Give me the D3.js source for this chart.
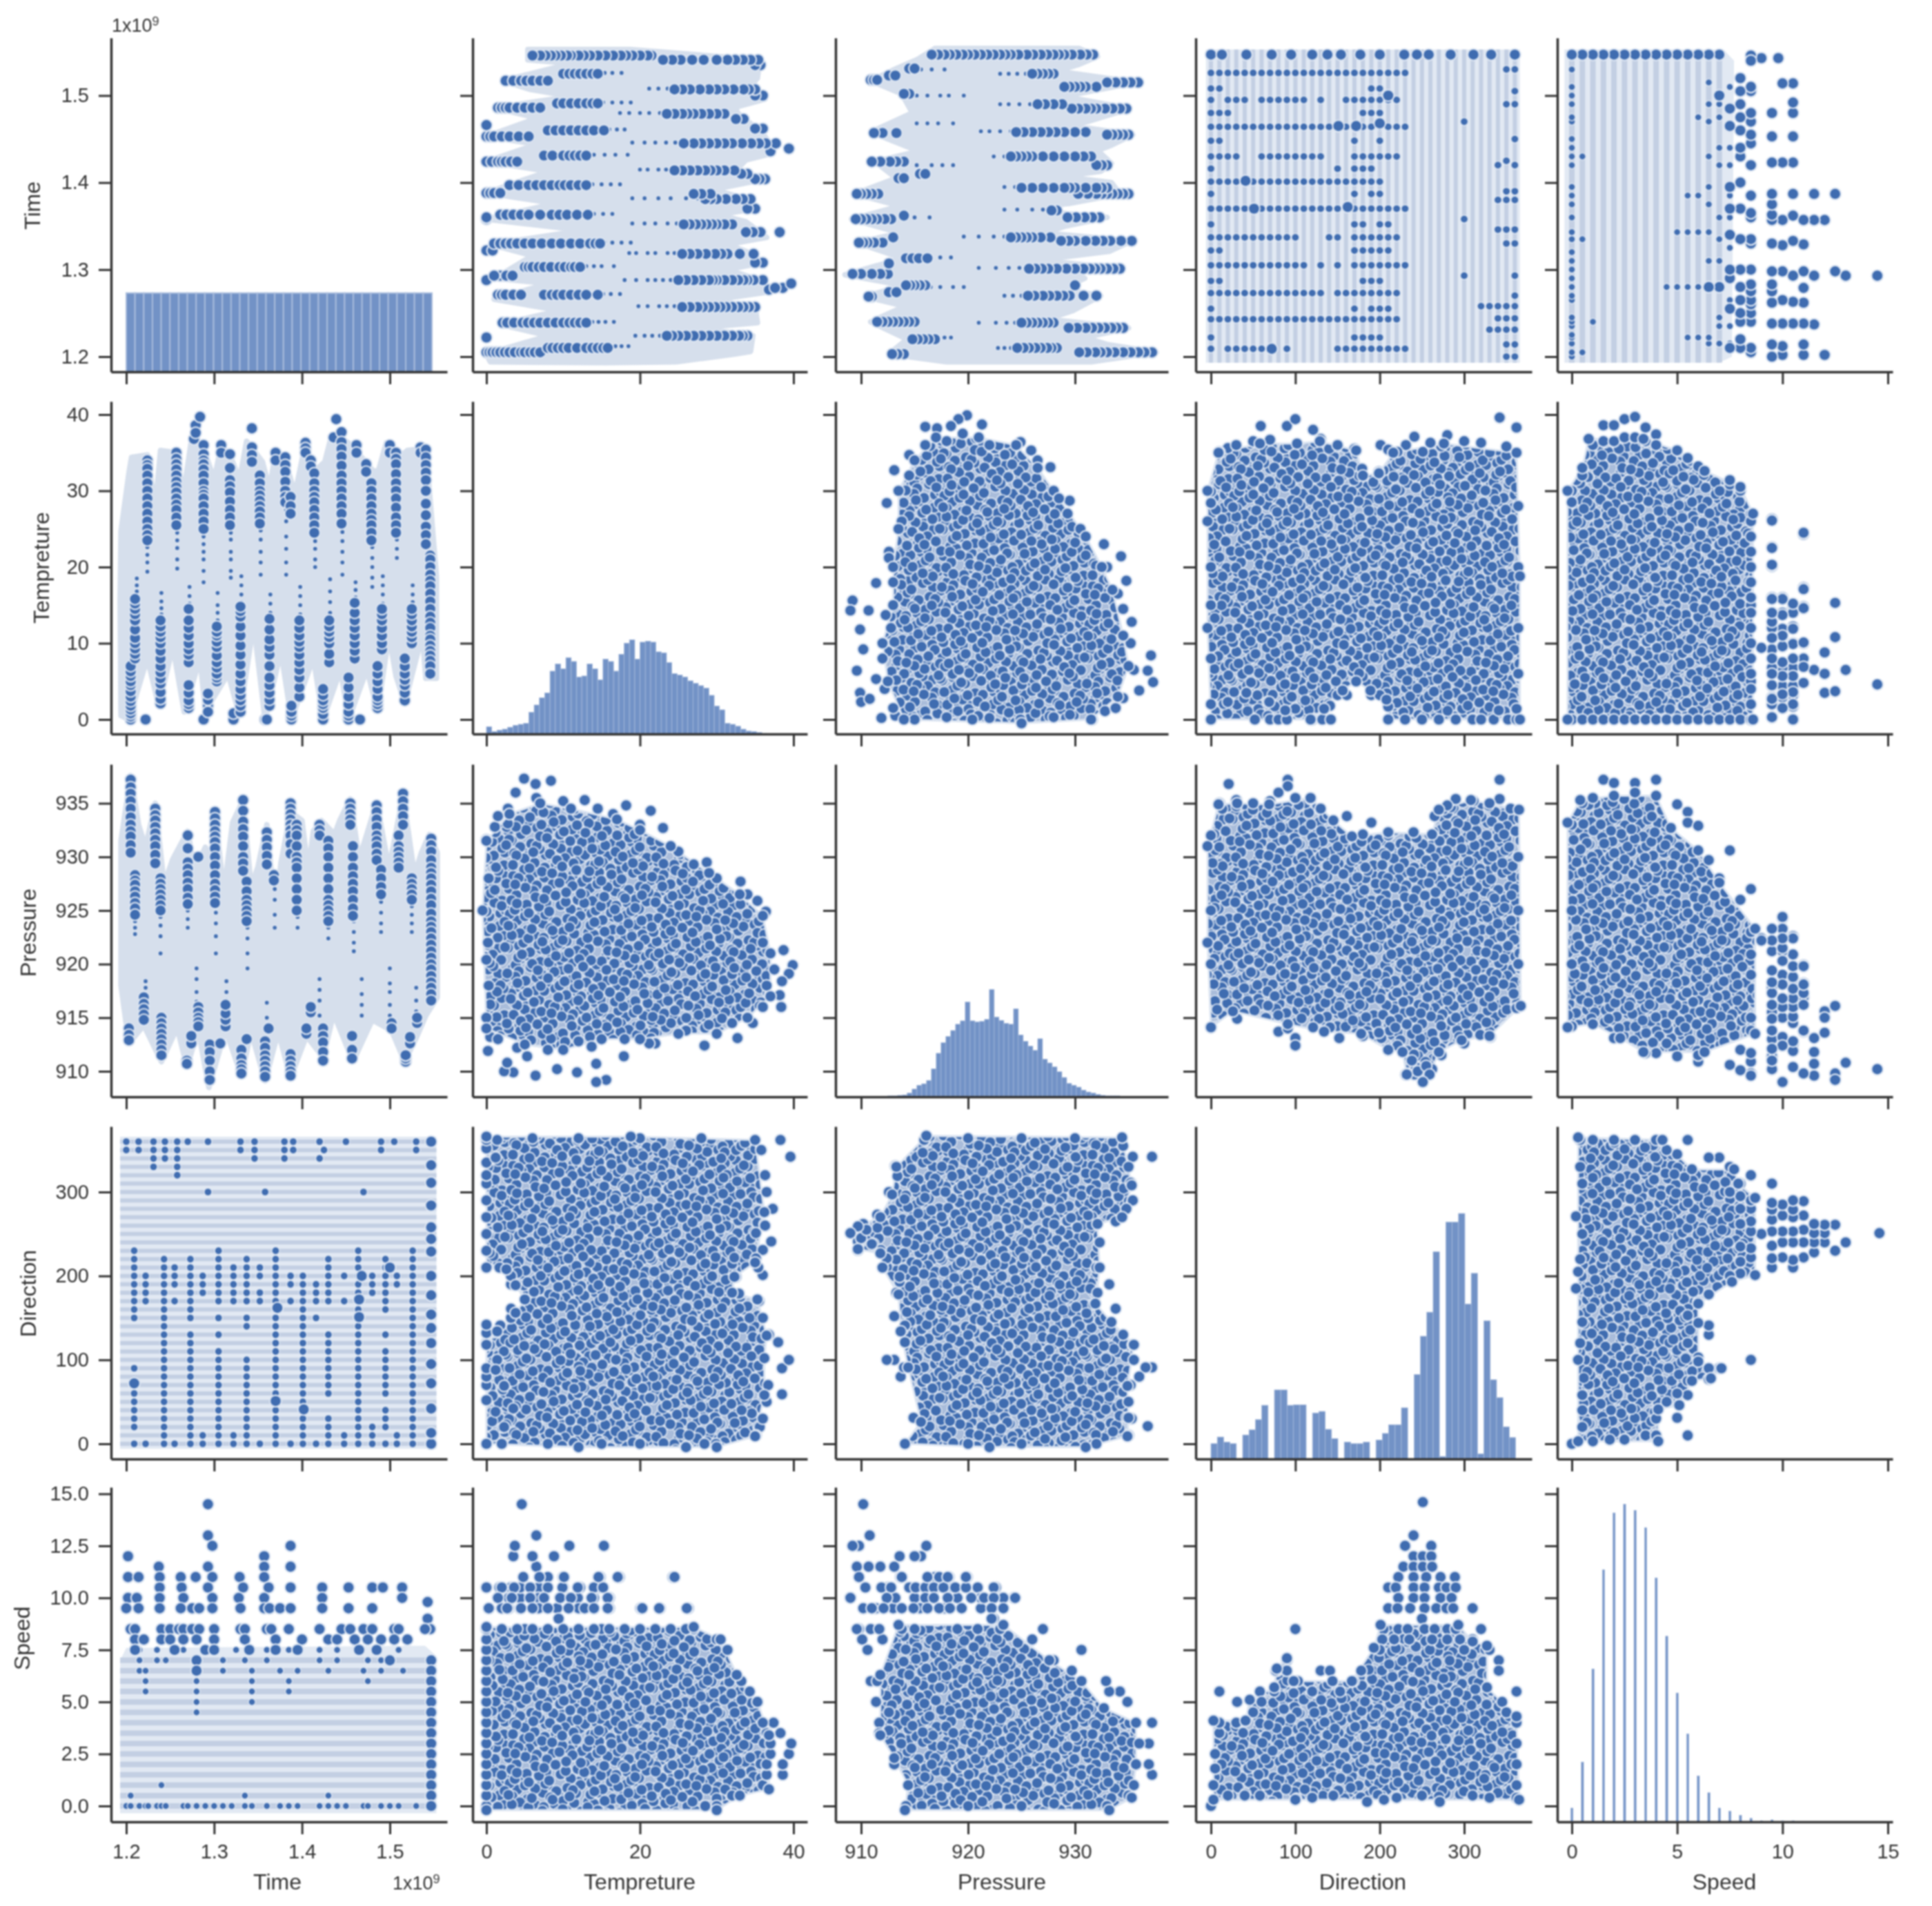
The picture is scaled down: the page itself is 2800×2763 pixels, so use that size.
<!DOCTYPE html>
<html>
<head>
<meta charset="utf-8">
<script src="https://cdn.jsdelivr.net/npm/d3@7"></script>
<style>
  html, body { margin: 0; background: #fff; }
  svg { display: block; filter: blur(0.9px); }
  text { font-family: "Liberation Sans", Arial, sans-serif; fill: #333; }
</style>
</head>
<body>
<svg id="chart" width="2800" height="2763"></svg>
<script>
var varNames = ["Time", "Tempreture", "Pressure", "Direction", "Speed"];

// tick values and their labels, one list per variable
var timeTicks = [1.2, 1.3, 1.4, 1.5];
var timeLabels = ["1.2", "1.3", "1.4", "1.5"];
var tempTicks = [0, 10, 20, 30, 40];
var tempXTicks = [0, 20, 40];
var pressTicks = [910, 915, 920, 925, 930, 935];
var pressXTicks = [910, 920, 930];
var dirTicks = [0, 100, 200, 300];
var speedTicks = [0, 2.5, 5, 7.5, 10, 12.5, 15];
var speedXTicks = [0, 5, 10, 15];

// histograms, heights
var timeBinStart = 1.2, timeBinWidth = 0.00994, timeHistMax = 1263;
var timeCounts = [298,298,298,298,298,298,298,298,298,298,298,298,298,298,298,298,298,298,298,298,298,298,298,298,298,298,298,298,298,298,298,298,298,298,298];
var tempBinStart = 0, tempBinWidth = 0.69, tempHistMax = 688;
var tempCounts = [15,5,8,10,14,18,20,22,45,60,75,85,130,145,135,158,150,118,120,145,135,112,155,150,130,165,188,195,155,190,192,190,170,168,148,125,122,118,110,105,100,95,80,58,50,22,20,16,10,6,5,3,1];
var pressBinStart = 912.5, pressBinWidth = 0.452, pressHistMax = 687;
var pressCounts = [2,2,3,4,8,16,24,27,34,58,90,112,125,137,150,157,196,157,155,156,160,222,165,158,152,150,182,128,115,105,96,120,78,70,62,52,40,28,24,20,14,10,8,5,3,2,2,2,1,1];
var dirBinStart = 0, dirBinWidth = 7.52, dirHistMax = 650;
var dirCounts = [30,43,33,30,0,47,57,77,105,0,135,135,105,106,106,0,90,93,58,40,0,33,30,30,33,0,37,50,67,67,100,0,165,240,287,405,5,463,463,480,303,363,10,270,155,120,63,42];
var speedBinStart = -0.05, speedBinWidth = 0.5, speedBarWidth = 0.11, speedHistMax = 654;
var speedCounts = [27,117,299,493,604,621,609,575,477,363,252,172,90,57,27,21,13,7,2,4,2,2];

// the discrete levels of Direction and Speed
var dirLevels = [0,10,20,30,40,50,60,70,80,90,100,110,120,130,140,150,160,170,180,190,200,210,220,230,240,250,260,270,280,290,300,310,320,330,340,350,360];
var speedLevels = [0,0.5,1,1.5,2,2.5,3,3.5,4,4.5,5,5.5,6,6.5,7];

// Time / Temperature
var timeTempOutline = [[1.193,15.6],[1.194,24.7],[1.203,32.3],[1.206,34.4],[1.224,34.7],[1.233,27.7],[1.239,35.3],[1.257,35],[1.265,29.5],[1.274,36.5],[1.287,35.9],[1.3,31.4],[1.308,35.9],[1.318,34.7],[1.329,31.4],[1.337,36.5],[1.355,33.8],[1.363,30.2],[1.37,35],[1.381,34],[1.392,29.5],[1.404,36.3],[1.415,32.6],[1.426,33.8],[1.434,37.4],[1.447,36.8],[1.457,35.9],[1.481,32.6],[1.487,32.6],[1.496,36.3],[1.511,34.4],[1.52,35.3],[1.541,35.6],[1.553,18.7],[1.553,5.4],[1.541,5.4],[1.537,11.1],[1.517,2.2],[1.507,5.7],[1.499,11.1],[1.486,1.1],[1.474,6.6],[1.453,0],[1.444,6.6],[1.424,0],[1.413,8.1],[1.388,0],[1.376,9],[1.358,0],[1.345,12.6],[1.329,0.5],[1.316,6],[1.29,1.1],[1.284,8.1],[1.266,1],[1.253,9.6],[1.237,1.8],[1.224,8.1],[1.203,0],[1.194,0.5]];
var timeTempColumns = [
  [1.205,[0,0.4,0.8,1.3,1.8,2.4,3,3.7,4.5,5,5.7,6.3,7]],[1.21,[8,8.6,9.3,10,10.7,11.8,13,13.8,14.5,15.2,15.8]],[1.222,[0]],
  [1.224,[34,33.4,32.9,32,31,30,29,28,27,26,25,24.2,23.5]],
  [1.239,[2.1,2.7,3.6,4.7,5.4,6.2,7,8,9,10,10.8,11.5,12.2,13]],[1.257,[35,34.2,33.5,32.8,32,31.2,30.5,29.8,29,28.2,27.5,26.5,25.5]],
  [1.271,[1.5,2,2.5,3.5,4.5,7.5,8.5,9.2,10,11,12,13,14.5]],
  [1.277,[36.8]],[1.279,[38.6,37.6]],[1.284,[39.7]],[1.288,[0,36,34.8,34,33.5,32.8,32,31,30,29.5,29,28,27,26,25]],[1.293,[1.8,1,2.6,3.4]],
  [1.303,[5,5.5,6,6.8,7.5,8.4,9.5,10.2,11,11.5,12.2]],[1.308,[36,35]],[1.318,[34.8,33,31.4,30.6,29.8,28.6,27.5,26.5,25.5]],[1.322,[0,0.8]],
  [1.33,[1,1.8,2.5,3.2,4,5,6,7.2,8.5,9.7,11,12.2,13.5,14.2,14.8]],[1.343,[38.2,35.7,34.7,33.8]],[1.352,[32,31,30,29.4,28.7,28,27.3,26.5,25.7]],[1.358,[0]],[1.36,[0]],
  [1.363,[1.8,2.6,3.5,4.5,5.5,7,8.5,9.5,10.5,11.8,13.2]],[1.37,[35,34]],[1.381,[34.4,33.4,32.5,31.2,30,29.2,28.5]],[1.387,[29.2,28,27]],[1.388,[0,0.5,1,1.8]],
  [1.397,[3,4.2,5.5,6.5,7.5,8.5,9.5,10.2,11,12,13]],[1.404,[36.3,35.6,35]],[1.41,[34,33.2]],[1.414,[32.3,31,30,29.2,28.5,27.5,26.5,25.5,24.5]],[1.424,[0,0.7,1.5,2,2.5,3.2,4]],
  [1.431,[7.5,8.6,10,10.8,11.5,12.2,13]],[1.439,[39.4]],[1.436,[37]],[1.445,[37.7,36.4,35.5,34.5,33.3,32,31,30,29,28,27,25.7]],[1.453,[0,0.5,1,2,3,4.2,5.5]],[1.46,[8,9,10,11,12,13,14,15.3]],
  [1.466,[0]],[1.462,[36,35]],[1.473,[33.5,32.5]],[1.479,[31,30,29,28,27,26.2,25.5,24.5,23.5]],[1.486,[1.5,2,2.5,3,4,5,6,7]],[1.491,[9.2,10,11,12,13,13.8,14.5]],
  [1.5,[36,35]],[1.507,[35,34.2,33.5,32.2,31,30,29,27.8,26.5,25.5,24.5]],[1.517,[2.5,3.5,4.5,5.2,6,7,8]],[1.525,[10,10.8,11.5,12.2,13,13.8,14.5]],[1.535,[35.7,35]],
  [1.541,[35.4,34.4,33.4,32.4,31.4,30,28.3,26.8,25.3,24.2,23]],[1.546,[21.5,21,20,19,18.2,17.5,16.5,15.5,14.5,13.5,12.7,12,11,10.5,9.7,9,8.4,7.7,7,6]]
];
var timeTempSmall = [
  [1.212,[16.8,17.6,18.5]],[1.224,[22.6,21.6,20.6,19.4]],[1.24,[13.8,14.6,15.5,16.6]],[1.258,[24.5,23.5,22.5,21,19.8]],[1.272,[15.2,16.2,17.4]],
  [1.288,[24,23,22,21,19.5,18]],[1.304,[13,14,15,16.6]],[1.319,[24.5,23.6,22,21,19.5,18.6]],[1.331,[15.4,16.4,17.6,18.8]],[1.353,[24.8,23.6,22,20.6,19]],
  [1.364,[14,15.2,16.4]],[1.382,[27.5,26,24,22.4,20.6,19]],[1.398,[13.8,15,16.2,17.4]],[1.415,[23.4,22.4,21,20]],[1.432,[14,15.4,16.8,18.4]],
  [1.446,[24.6,23.4,22,20.6,19]],[1.461,[16,17,18]],[1.48,[22.6,21.2,20,18.6,17.4]],[1.492,[15.2,16.4,17.6,18.8]],[1.508,[23.6,22.4,21.2]],[1.526,[15.4,16.4,17.6]]
];

// Time / Pressure
var timePressOutline = [[1.194,931.5],[1.205,937.6],[1.214,933],[1.222,930.9],[1.233,935],[1.243,927.4],[1.253,929.8],[1.27,932.4],[1.278,928.7],[1.29,930.9],[1.298,929.8],[1.301,934.2],[1.311,926.6],[1.321,933.2],[1.333,935.3],[1.342,927.2],[1.35,929.1],[1.36,933],[1.37,924.4],[1.376,929.4],[1.387,934.2],[1.4,933.4],[1.407,928.7],[1.413,932.4],[1.422,933.4],[1.437,932.1],[1.443,933.4],[1.455,935.4],[1.465,929.8],[1.473,931.9],[1.485,935.1],[1.499,928.9],[1.506,931.9],[1.515,935.8],[1.528,928.3],[1.536,930.4],[1.545,932.1],[1.554,930.4],[1.554,916.9],[1.541,915.2],[1.531,913.3],[1.517,910.9],[1.502,913.8],[1.48,914.8],[1.458,910.9],[1.436,915.4],[1.424,911.3],[1.405,913.3],[1.387,909.4],[1.373,913.7],[1.358,909.1],[1.342,913.7],[1.331,909.6],[1.313,913.9],[1.294,908.5],[1.282,913.9],[1.269,910.4],[1.258,914.1],[1.24,910.9],[1.22,914.3],[1.203,912.6],[1.194,918]];
var timePressColumns = [
  [1.205,[937.2,936.5,935.9,935.2,934.5,933.7,933,932.4,931.9,931.1,930.4]],[1.203,[914,913.4,912.9]],[1.21,[928.3,927.8,927.4,926.8,926.3,925.7,925.2,924.6]],[1.22,[916.9,916.3,915.8,915.3,914.8]],
  [1.233,[934.5,933.9,933.4,932.8,932.2,931.6,931,930.2,929.4]],[1.239,[928,927.5,927,926.5,926,925.5,925]],[1.24,[915,914.5,914,913.5,913,912.5,912,911.5]],[1.27,[932,930.8,929.5,928.9,928.3,927.6,927,926.2,925.6]],
  [1.269,[911,910.7]],[1.274,[912.6,913.3]],[1.282,[930,916,915.5,915,914.6,914.2]],[1.301,[934.2,933.6,933,932.4,931.9,931.4,930.8,930,929.2,928.3,927.5,926.9,926.3,925.7]],
  [1.295,[912.5,911.8,911,910,909.2]],[1.307,[912.6]],[1.313,[914.2,914.8,915.4,916.2]],[1.333,[935.3,934.3,933.3,932.6,931.9,931,930,929.4,928.7]],[1.337,[927.7,926.8,926,925.5,925,924.5,924,913]],
  [1.331,[912,911.2,910.6,910.2,909.8]],[1.358,[912.8,912.2,911.5,911,910.5,910,909.5]],[1.36,[932.3,931.6,930.9,930.1,929.3]],[1.362,[914]],[1.368,[928.3,927.8]],
  [1.387,[935,934.5,934,933.5,933,932.5,932,931.2,930.3,911.6,911,910.5,910,909.6]],[1.394,[933,932.5,932,931,930,929.5,929,928,927,926,925]],[1.405,[913.5,914]],[1.41,[915.5,916]],
  [1.42,[933,932.5,932]],[1.424,[914,913.3,912.7,911.8,911]],[1.43,[931.5,930.8,930,929,928,927,926,925.5,925,924.5,924]],[1.455,[935,934.5,934,933.5,933]],[1.458,[931,930,929,928.2,927.5,926.8,926,925.2,924.5]],
  [1.457,[913.3,912,911.2]],[1.485,[934.8,934.2,933.5,932.8,932,931.5,931,930.3,929.7]],[1.49,[928.8,928,927.2,926.5]],[1.515,[935.9,935.2,934.5,933.8,933]],[1.51,[932,931,930.5,930,929.5,929]],
  [1.525,[928,927.5,927,926.5,926]],[1.502,[914.5,914]],[1.518,[910.9,911.2,911.5]],[1.523,[912.6,913.2]],[1.531,[914.5,915]],
  [1.547,[931.7,931.1,930.5,929.7,929,928.5,928,927.4,926.8,926.1,925.5,924.7,924,923.5,923,922.4,921.8,921.2,920.6,920,919.5,918.9,918.3,917.8,917.2,916.6]]
];
var timePressSmall = [
  [1.21,[924,923.4,922.8]],[1.239,[924.4,923.6,922.6,921]],[1.222,[916.9,917.8,918.4]],[1.27,[925,924.2,923.4]],[1.302,[924.8,923.8,922.6,921]],
  [1.28,[916.5,917.4,918.6,919.6]],[1.338,[923.4,922.4,921,919.6]],[1.314,[916.6,917.4,918.4]],[1.369,[927,926,924.6,923.4]],[1.395,[924.4,923.4]],
  [1.36,[915,916.4]],[1.42,[915.2,916.6,917.6,918.6]],[1.43,[923.4,922.4]],[1.459,[924,923,922,921.2]],[1.49,[925.8,924.8,923.8,923]],
  [1.468,[915.2,916.2,917.2,918.6]],[1.525,[925.4,924.6,923.8,923]],[1.5,[915.2,916.2,917.4,918.2,919.6]],[1.53,[915.6,916.6,917.8]]
];

// Time / Direction
var timeDirOutline = [[1.193,-6],[1.553,-6],[1.553,366],[1.193,366]];
var timeDirColumns = [
  [1.209,[0,20,30,40,50,60,70,90,150,160,170,180,190,200,210,220,230]],
  [1.222,[0,170,180,190,200]],
  [1.243,[0,10,20,30,40,50,60,70,80,90,100,110,120,130,140,150,160,170,180,190,200,210,220]],
  [1.255,[0,170,190,200,210]],
  [1.273,[0,10,20,30,40,50,60,70,80,90,100,110,120,130,150,160,170,180,190,200,210,220]],
  [1.287,[0,10,180,190,200]],
  [1.305,[0,10,20,30,40,50,60,70,80,90,100,110,130,150,170,180,190,200,210,220,230]],
  [1.322,[0,10,170,180,190,200,210]],
  [1.337,[0,10,20,30,40,50,60,70,80,90,100,140,150,170,180,190,200,210,220]],
  [1.352,[0,170,180,200,210]],
  [1.37,[0,10,20,30,40,50,60,70,80,90,100,110,120,130,140,150,160,170,180,190,200,210,220,230]],
  [1.387,[0,170,190,200]],
  [1.401,[0,10,20,30,40,50,60,70,80,90,100,110,120,130,140,150,160,170,180,190,200]],
  [1.416,[0,150,170,180,190]],
  [1.43,[0,10,20,30,60,70,80,90,100,110,120,130,170,180,190,200,210,220]],
  [1.448,[0,10,170,200]],
  [1.464,[0,10,20,30,40,50,60,70,80,90,100,110,120,130,140,150,160,170,180,190,200,210,220,230]],
  [1.48,[0,10,20,180,190,200]],
  [1.495,[0,20,30,40,60,70,80,90,100,110,130,160,170,180,190,200,210,220]],
  [1.508,[0,10,190,200]],
  [1.526,[0,10,20,30,40,50,60,70,80,90,100,110,120,130,140,150,160,170,180,190,200,210,220,230]],
  [1.2,[360,350]],[1.214,[360,350]],[1.231,[360,350,340,330]],[1.244,[360,350,340]],[1.258,[360,350,340,330,320]],[1.27,[360]],
  [1.293,[360,300]],[1.33,[360,350]],[1.346,[360,350,340]],[1.358,[300]],[1.38,[360,350,340]],[1.39,[360,350]],[1.42,[360,340]],
  [1.425,[350]],[1.45,[360]],[1.47,[300]],[1.49,[360,350]],[1.505,[360]],[1.53,[360,350]]
];
var timeDirBig = [[1.209,72],[1.468,200],[1.465,172],[1.465,151],[1.5,210],[1.37,51],[1.402,41],[1.372,162],
  [1.547,0],[1.547,13],[1.547,42],[1.547,72],[1.547,95],[1.547,120],[1.547,138],[1.547,154],[1.547,177],[1.547,200],[1.547,229],[1.547,244],[1.547,258],[1.547,284],[1.547,311],[1.547,332],[1.547,360]];

// Time / Speed
var timeSpeedOutline = [[1.193,-0.35],[1.553,-0.35],[1.553,7.2],[1.54,7.7],[1.2,7.6],[1.193,7]];
var timeSpeedBig = [
  [1.293,14.5],[1.293,13],[1.298,12.5],[1.387,12.5],[1.202,12],[1.357,12],[1.237,11.5],[1.293,11.5],[1.357,11.5],[1.387,11.5],
  [1.202,11],[1.214,11],[1.238,11],[1.262,11],[1.279,11],[1.298,11],[1.329,11],[1.357,11],
  [1.238,10.5],[1.263,10.5],[1.293,10.5],[1.333,10.5],[1.362,10.5],[1.387,10.5],[1.423,10.5],[1.453,10.5],[1.48,10.5],[1.492,10.5],[1.514,10.5],
  [1.202,10],[1.212,10],[1.238,10],[1.265,10],[1.298,10],[1.328,10],[1.357,10],[1.423,10],[1.514,10],
  [1.2,9.5],[1.214,9.5],[1.238,9.5],[1.262,9.5],[1.275,9.5],[1.283,9.5],[1.298,9.5],[1.33,9.5],[1.357,9.5],[1.363,9.5],[1.375,9.5],[1.387,9.5],[1.423,9.5],[1.453,9.5],[1.48,9.5],
  [1.543,9.8],[1.543,9],[1.546,8.5],
  [1.205,8.5],[1.21,8.5],[1.24,8.5],[1.25,8.5],[1.26,8.5],[1.265,8.5],[1.275,8.5],[1.283,8.5],[1.3,8.5],[1.33,8.5],[1.335,8.5],[1.36,8.5],[1.365,8.5],[1.385,8.5],[1.42,8.5],[1.445,8.5],[1.455,8.5],[1.47,8.5],[1.48,8.5],[1.505,8.5],[1.51,8.5],[1.54,8.5],
  [1.21,8],[1.22,8],[1.24,8],[1.25,8],[1.265,8],[1.28,8],[1.3,8],[1.335,8],[1.37,8],[1.4,8],[1.43,8],[1.44,8],[1.46,8],[1.475,8],[1.49,8],[1.505,8],[1.52,8],
  [1.21,7.5],[1.255,7.5],[1.29,7.5],[1.3,7.5],[1.34,7.5],[1.37,7.5],[1.395,7.5],[1.465,7.5],[1.485,7.5],
  [1.28,7],[1.5,7],[1.28,6.5],[1.547,7],[1.547,6.5],[1.547,6],[1.547,5.5],[1.547,5],[1.547,4.5],[1.547,4],[1.547,3.5],[1.547,3],[1.547,2.5],[1.547,2],[1.547,1.5],[1.547,1],[1.547,0.5],[1.547,0]
];
var timeSpeedColumns = [
  [1.2,[0]],[1.205,[0,0.5]],[1.215,[0,7.5,7,6.5]],[1.222,[6.5,6,5.5,0]],[1.225,[0]],[1.235,[0,7.5,7]],[1.24,[0,1]],[1.245,[7,0]],[1.265,[0,7.5]],[1.27,[0]],
  [1.28,[0,6,5.5,5,4.5]],[1.29,[0]],[1.3,[0]],[1.31,[7,6.5,0]],[1.32,[0]],[1.325,[7.5]],[1.335,[0,7,0.5]],[1.343,[6.5,6,5.5,5,0]],[1.36,[0,7.5,7]],
  [1.375,[0,6.5]],[1.385,[7.5,6,5.5,0]],[1.395,[0,6.5]],[1.42,[0,7.5,7]],[1.43,[0,6.5,0.5]],[1.44,[7.5,7,0]],[1.45,[0]],[1.47,[0,6.5]],
  [1.475,[7,6,0]],[1.49,[7,6.5,0]],[1.5,[0]],[1.51,[7.5,0]],[1.515,[6.5]],[1.53,[0]],[1.545,[0]]
];

// Temperature / Pressure
var tempPressOutline = [[0,931.5],[3,934],[7,935],[11,934.5],[17,933.5],[20,932.5],[24,931],[29,928.5],[33,926.5],[36,924.5],[37,921],[37,917],[34,915],[30,913.5],[25,913.5],[20,913],[15,913],[10,912],[5,912.5],[0,914],[-0.5,925]];
var tempPressDots = [[4.9,937.3],[3.8,936],[6.4,936.8],[8.4,937.1],[12.8,935.3],[18.2,934.8],[21.4,934.3],[23,932.7],[28.7,929.5],[33.1,927.7],[35.3,925.9],[36.4,924.9],[38.7,921.3],[39.9,919.9],[39.4,919.1],[38.5,918.4],[37.5,919.5],[38.2,917.1],[38.4,916],[34.7,914.5],[32.7,913.1],[28.4,912.4],[22,912.6],[21.2,912.6],[17.9,911.4],[15.6,909.2],[14.3,909],[14.3,910.7],[13.7,912.3],[11.8,909.9],[9.2,910.2],[6.4,909.6],[3.5,909.9],[2.3,910],[2.7,910.8],[5.3,911.4],[0.2,911.9],[0.5,913.2],[0,915],[0,920.4],[0,924.9],[0,931.6],[1.1,932.8],[1.5,933.8],[2.8,934.5],[6.5,935.5],[10,935.2],[14.5,934.5],[16.5,934],[20,933],[25,930.5],[27,929.3],[30,928],[34,926.5],[36,922],[36.5,918],[36,916],[32,914.5],[26,913.8],[18,913],[12,912.8],[8,912],[4,912.2],[1.5,913],[0.3,918],[0.2,922],[0.3,928]];

// Direction / Temperature
var dirTempOutline = [[-4,30],[9,35],[58,36.2],[102,36.2],[129,36.5],[172,35.3],[180,32],[199,32.3],[216,35],[276,36.2],[362,35],[366,18.8],[366,0],[210,0],[208,2.6],[189,3.8],[172,5],[156,3.8],[134,1.4],[118,0],[0,0],[-4,12],[-4,26]];
var dirTempDots = [[59,38.5],[90,38.5],[100,39.4],[121,38],[342,39.6],[362,38.3],[241,37.1],[280,37.3],[231,36],[201,36],[210,35.4],[221,35.1],[20,35.6],[10,35.1],[170,35.5],[251,35.1],[179,32.9],[199,32.5],[0,29.9],[0,28.4],[0,0],[52,0],[70,0],[80,0],[90,0],[120,0],[132,0],[142,0],[210,0],[230,0],[250,0],[270,0],[290,0],[310,0],[320,0],[335,0],[352,0],[362,0],[141,1.8],[100,1.4],[150,3.2],[161,3.2],[190,3.2],[200,3.2],[210,1.7],[362,1.4],[341,1.2],[0,2],[20,2.3],[42,3.5],[69,2.3],[88,1.2],[30,36],[50,36.5],[70,36.7],[130,36.8],[150,36],[260,36.3],[300,36.5],[320,36.3],[350,35.8],[0,20],[0,15],[0,8],[364,28],[364,20],[364,12],[364,6]];

// Temperature / Speed, read as Speed first
var speedTempOutline = [[-0.2,30],[0.5,33],[0.8,36.8],[3.4,36.8],[5,35.3],[6.3,32.6],[8,30.5],[8.6,27],[8.6,0],[-0.2,0]];
var speedTempDots = [[1.5,38.6],[2,38.6],[2.5,39.4],[3,39.7],[3.5,38.3],[4,37.4],[5,35.3],[5.5,34.3],[6,33.2],[7.5,31.4],[8,30],[9.5,26.3],[11,24.3],[9.5,22.6],[9.5,20.1],[11,17.3],[12.5,15.3],[11,14.8],[9.5,16],[10,16],[9.5,14],[10,14],[10.5,14.8],[10.5,12.2],[10,11.9],[9.5,12],[12.5,10.8],[12,8.8],[11,10],[10.5,10],[9.5,9.2],[10,9.6],[9,9.4],[13,6.5],[11.5,6.5],[12,6],[12,3.5],[12.5,3.7],[14.5,4.6],[9.5,0.3],[10.5,0],[10.5,1.7],[10,1.5],[9.5,2],[9.5,4.4],[10,4.4],[10.5,4.4],[11,8],[10.5,6.8],[10,6.8],[9.5,6.8],[10.5,3.2],[10,2.9],[9.5,2.9],[0,0],[0.5,0],[1,0],[1.5,0],[2,0],[2.5,0],[3,0],[3.5,0],[4,0],[4.5,0],[5,0],[5.5,0],[6,0],[6.5,0],[7,0],[7.5,0],[8,0],[8.5,0],[0,30],[0,28.5],[0.5,33],[0.5,32],[1,36],[1.5,36.5],[2,36.5],[2.5,37],[3,37],[3.5,36.5],[4,36],[8.5,27],[8.5,24],[8.5,20],[8.5,15],[8.5,10],[8.5,5],
  [10.5,0],[10.5,2],[10.5,3.6],[10.5,5.7],[10.5,8],[10.5,9.9],[10.5,11.9],[10.5,14],[10.5,15.2],
  [10,1.5],[10,3.3],[10,5.7],[10,7.5],[10,9.6],[10,11],[10,13.7],[10,15.8],
  [9.5,0.3],[9.5,2.7],[9.5,4.5],[9.5,6],[9.5,8],[9.5,10.7],[9.5,12.8],[9.5,14],[9.5,15.8],[9.5,20.3],[9.5,22.5],[9.5,26.1],
  [11,4.8],[11,6.9],[11,10.1],[11,14.6],[11,17.1],[11,24.5],
  [8.5,0],[8.5,2],[8.5,4],[8.5,6],[8.5,8],[8.5,12],[8.5,14],[8.5,16],[8.5,18],[8.5,22],[8.5,26]];

// Pressure / Direction, read as Direction first
var dirPressOutline = [[-4,931],[9,934.9],[31,935],[69,934.9],[118,935.5],[145,933.4],[167,931.9],[210,932.3],[262,932.1],[270,934.4],[308,935.3],[365,934.4],[367,916.1],[330,913.3],[297,912.9],[270,911.8],[259,909.7],[251,909],[232,909.7],[227,911.8],[210,912],[178,913.5],[134,913.7],[91,914.4],[26,915.6],[0,914.1],[-4,922]];
var dirPressDots = [[21,936.8],[91,937.2],[91,936.6],[80,936],[118,935.4],[161,933.8],[190,933.2],[290,935.4],[311,935.2],[342,937.2],[342,935.4],[180,932.1],[210,932],[0,914.1],[31,914.9],[80,913.7],[91,914],[100,913.1],[100,912.4],[121,914.1],[141,914.1],[152,913.1],[180,913.3],[199,913.6],[210,912],[221,912.4],[231,909.7],[241,909.7],[251,909],[262,910.2],[273,911.5],[300,912.6],[319,913.4],[331,913.2],[362,915.9],[10,935],[30,935.3],[50,935],[70,935.2],[100,935.5],[130,934.5],[240,932.3],[265,933.8],[280,934.8],[330,935],[355,934.5],[364,930],[364,925],[364,920],[0,932],[0,925],[0,920],[245,910],[255,910.5],[238,911]];

// Pressure / Speed, read as Speed first
var speedPressOutline = [[-0.2,914.1],[-0.2,933.2],[0.4,935.3],[2,935.7],[4,935.7],[4.7,932.7],[6,930.6],[7,927.6],[8.7,923.3],[8.7,913.5],[6.3,911.8],[3.4,911.8],[2.3,913.1],[1,914.4]];
var speedPressDots = [[1.5,937.2],[2,936.9],[3,936.9],[4,937.2],[3,936],[5,934.9],[5.5,934.2],[5.5,933.2],[6,932.9],[7.5,930.6],[6.5,929.7],[8.5,927],[8,926],[10,924.3],[10.5,922.6],[10,923.3],[9.5,923.3],[9,922.4],[11,919.9],[10.5,920.9],[11,918.2],[11,916.9],[12.5,916.1],[12,915.6],[12,915],[11,913.7],[12,913.6],[11.5,913.1],[11.5,911.8],[11.5,910.7],[13,910.8],[12.5,909.8],[12.5,909.2],[11.5,909.6],[11,909.8],[10.5,910.4],[10,909],[9.5,910.2],[9.5,911.4],[14.5,910.2],[8.5,909.8],[8,910.1],[7.5,910.6],[6,910.9],[5,911.4],[4,911.7],[3.5,911.7],[4.5,912.6],[2,913.1],[0,914.2],[9.5,917.8],[9.5,921.2],[10,921.2],[10,919],[10.5,917],[10.5,918.6],[9.5,915.5],[10,915],[10.5,914.5],[9.5,913],[10,913.2],[10.5,912.5],[0,933],[0.5,935],[1,935.5],[0,925],[0,920],[8.5,923],[8.5,919],[8.5,915],[7,928],[6,911.5],[8,912],
  [10.5,911.9],[10.5,912.8],[10.5,915.1],[10.5,916],[10.5,916.8],[10.5,917.7],[10.5,918.8],[10.5,919.8],[10.5,922.4],
  [11,913.8],[11,916.2],[11,917.3],[11,918.1],[11,919.8],
  [10,909],[10,912.4],[10,916],[10,916.8],[10,918.1],[10,920.3],[10,921.5],[10,922.4],[10,924.4],
  [9.5,910.2],[9.5,911],[9.5,912.1],[9.5,913.8],[9.5,914.9],[9.5,916.2],[9.5,917.3],[9.5,918.3],[9.5,919.4],[9.5,922.2],
  [9,922.2],[8.5,909.6],[8.5,910.9],[8.5,911.7],[8.5,913.8],[8.5,920.9]];

// Direction / Speed
var dirSpeedOutline = [[3,4.1],[41,4.1],[46,5.1],[75,5.7],[78,6.6],[90,7.1],[98,6],[144,6],[167,6],[193,7.6],[201,8.7],[293,8.7],[310,7.9],[327,7.7],[327,5.7],[362,4.3],[365,0.3],[3,0.3]];
var dirSpeedDots = [[251,14.6],[240,13],[230,12.5],[261,12.5],[240,12],[251,12],[261,12],[228,11.5],[240,11.5],[251,11.5],[262,11.5],[289,11],[222,11],[240,11],[255,11],[272,11],[210,10.5],[219,10.5],[240,10.5],[253,10.5],[270,10.5],[279,10.5],[290,10.5],[222,10],[240,10],[253,10],[272,10],[285,10],[210,9.5],[221,9.5],[236,9.5],[253,9.5],[267,9.5],[279,9.5],[287,9.5],[310,9.5],[250,9],[222,8.5],[233,8.5],[253,8.5],[265,8.5],[280,8.5],[290,8.5],[320,8.5],[100,8.5],[203,8],[217,8],[235,8],[262,8],[280,8],[295,8],[310,8],[200,7.5],[330,7.5],[300,7.5],[341,7],[341,6.5],[90,7],[90,6.5],[77,6.5],[130,6.5],[141,6.5],[178,6.5],[169,6],[103,6],[10,5.5],[31,5],[362,5.5],[153,5.5],[58,5.5],[75,5.5],[0,0],[20,0.5],[40,0.5],[58,0.5],[100,0.3],[120,0.4],[145,0.5],[185,0.2],[205,0.3],[220,0.4],[250,0.5],[271,0.2],[310,0.5],[330,0.4],[362,0.4],[5,1.8],[5,2.5],[3,1],[10,3.5],[10,4],[362,1],[362,2],[362,3],[362,4],[30,4],[50,4.5],[60,5],[120,5.5],[345,5],[350,4.5]];

// scale anchors: two ticks and where they land, then the full extent of each panel
var colExtent = [[161,648],[685,1170],[1211,1693],[1733,2220],[2257,2743]];
var rowExtent = [[539,55],[1064,582],[1590,1108],[2115,1633],[2641,2156]];

function anchored(d0, d1, p0, p1, extent) {
  var s = d3.scaleLinear().domain([d0, d1]).range([p0, p1]);
  return d3.scaleLinear().domain([s.invert(extent[0]), s.invert(extent[1])]).range(extent);
}

var xScales = [
  anchored(1.2, 1.5, 183, 565, colExtent[0]),
  anchored(0, 40, 705, 1150, colExtent[1]),
  anchored(910, 930, 1248, 1558, colExtent[2]),
  anchored(0, 300, 1755, 2122, colExtent[3]),
  anchored(0, 15, 2278, 2736, colExtent[4])
];
var yScales = [
  anchored(1.2, 1.5, 517, 138.5, rowExtent[0]),
  anchored(0, 40, 1043, 601, rowExtent[1]),
  anchored(910, 935, 1553, 1164.5, rowExtent[2]),
  anchored(0, 300, 2093, 1728, rowExtent[3]),
  anchored(0, 15, 2618, 2165.5, rowExtent[4])
];
var xTickVals = [timeTicks, tempXTicks, pressXTicks, dirTicks, speedXTicks];
var yTickVals = [timeTicks, tempTicks, pressTicks, dirTicks, speedTicks];

var blue = "#3f6cb0", ring = "#dbe4f1", barBlue = "#7292c6";

var svg = d3.select("#chart");

// fill for the overplotted middle of a dense cloud (not individual readings)
var tileSize = 420;
var tile = svg.append("defs").append("pattern")
    .attr("id", "dense")
    .attr("patternUnits", "userSpaceOnUse")
    .attr("width", tileSize)
    .attr("height", tileSize);
tile.append("rect").attr("width", tileSize).attr("height", tileSize).attr("fill", "#a9bcda");
function halton(i, base) {
  var f = 1, r = 0;
  while (i > 0) { f /= base; r += f * (i % base); i = Math.floor(i / base); }
  return r;
}
d3.range(1, 1300).forEach(function(i) {
  var cx = halton(i, 2) * tileSize, cy = halton(i, 3) * tileSize;
  [-tileSize, 0, tileSize].forEach(function(ox) {
    [-tileSize, 0, tileSize].forEach(function(oy) {
      if (cx + ox < -12 || cx + ox > tileSize + 12 || cy + oy < -12 || cy + oy > tileSize + 12) return;
      tile.append("circle").attr("cx", cx + ox).attr("cy", cy + oy).attr("r", 8.2)
          .attr("fill", blue).attr("stroke", ring).attr("stroke-width", 1.8);
    });
  });
});

function flatten(columns) {
  var out = [];
  columns.forEach(function(c) {
    c[1].forEach(function(v) { out.push([c[0], v]); });
  });
  return out;
}

function drawPanel(col, row, pair, swap) {
  var x = xScales[col], y = yScales[row];
  var px = function(d) { return x(swap ? d[1] : d[0]); };
  var py = function(d) { return y(swap ? d[0] : d[1]); };
  var g = svg.append("g");

  g.append("path")
    .datum(pair.outline)
    .attr("d", d3.line().x(px).y(py).curve(d3.curveLinearClosed))
    .attr("fill", pair.fill)
    .attr("stroke", pair.edge)
    .attr("stroke-width", pair.edgeWidth)
    .attr("stroke-linejoin", "round");

  if (pair.levels) {
    // Direction and Speed only take these values, so the pale mass shows as stripes
    var lo = pair.outline[0][0], hi = pair.outline[1][0];
    pair.levels.forEach(function(lv) {
      var a = [lo, lv], b = [hi, lv];
      g.append("line")
        .attr("x1", px(a)).attr("y1", py(a))
        .attr("x2", px(b)).attr("y2", py(b))
        .attr("stroke", "#c3cfe3")
        .attr("stroke-width", pair.bandWidth);
    });
  }

  if (pair.small) {
    g.selectAll("circle.small").data(pair.small).enter().append("circle")
      .attr("class", "small")
      .attr("cx", px).attr("cy", py).attr("r", pair.smallR)
      .attr("fill", blue).attr("stroke", ring).attr("stroke-width", 1.5);
  }

  g.selectAll("circle.big").data(pair.big).enter().append("circle")
    .attr("class", "big")
    .attr("cx", px).attr("cy", py).attr("r", 8.4)
    .attr("fill", blue).attr("stroke", ring).attr("stroke-width", 2.2);
}

var pale = "#d6dfec", denseFill = "url(#dense)";
var pairs = [
  { a: 0, b: 1, outline: timeTempOutline, small: flatten(timeTempSmall), smallR: 3.6, big: flatten(timeTempColumns), fill: pale, edge: pale, edgeWidth: 8 },
  { a: 0, b: 2, outline: timePressOutline, small: flatten(timePressSmall), smallR: 3.6, big: flatten(timePressColumns), fill: pale, edge: pale, edgeWidth: 8 },
  { a: 0, b: 3, outline: timeDirOutline, levels: dirLevels, bandWidth: 6, small: flatten(timeDirColumns), smallR: 5.6, big: timeDirBig, fill: "#e2e9f3", edge: "none", edgeWidth: 0 },
  { a: 0, b: 4, outline: timeSpeedOutline, levels: speedLevels, bandWidth: 8, small: flatten(timeSpeedColumns), smallR: 5, big: timeSpeedBig, fill: "#e2e9f3", edge: "none", edgeWidth: 0 },
  { a: 1, b: 2, outline: tempPressOutline, big: tempPressDots.concat(tempPressOutline), fill: denseFill, edge: ring, edgeWidth: 3 },
  { a: 3, b: 1, outline: dirTempOutline, big: dirTempDots.concat(dirTempOutline), fill: denseFill, edge: ring, edgeWidth: 3 },
  { a: 4, b: 1, outline: speedTempOutline, big: speedTempDots.concat(speedTempOutline), fill: denseFill, edge: ring, edgeWidth: 3 },
  { a: 3, b: 2, outline: dirPressOutline, big: dirPressDots.concat(dirPressOutline), fill: denseFill, edge: ring, edgeWidth: 3 },
  { a: 4, b: 2, outline: speedPressOutline, big: speedPressDots.concat(speedPressOutline), fill: denseFill, edge: ring, edgeWidth: 3 },
  { a: 3, b: 4, outline: dirSpeedOutline, big: dirSpeedDots.concat(dirSpeedOutline), fill: denseFill, edge: ring, edgeWidth: 3 }
];

pairs.forEach(function(p) {
  drawPanel(p.a, p.b, p, false);
  drawPanel(p.b, p.a, p, true);
});

// histograms on the diagonal, each with its own hidden count scale
var hists = [
  { i: 0, counts: timeCounts, start: timeBinStart, width: timeBinWidth, bar: timeBinWidth, max: timeHistMax, edge: 2 },
  { i: 1, counts: tempCounts, start: tempBinStart, width: tempBinWidth, bar: tempBinWidth, max: tempHistMax, edge: 0.8 },
  { i: 2, counts: pressCounts, start: pressBinStart, width: pressBinWidth, bar: pressBinWidth, max: pressHistMax, edge: 0.6 },
  { i: 3, counts: dirCounts, start: dirBinStart, width: dirBinWidth, bar: dirBinWidth, max: dirHistMax, edge: 0.8 },
  { i: 4, counts: speedCounts, start: speedBinStart, width: speedBinWidth, bar: speedBarWidth, max: speedHistMax, edge: 0.6 }
];
hists.forEach(function(h) {
  var x = xScales[h.i];
  var y = d3.scaleLinear().domain([0, h.max]).range(rowExtent[h.i]);
  svg.append("g").selectAll("rect").data(h.counts).enter().append("rect")
    .attr("x", function(d, k) { return x(h.start + k * h.width); })
    .attr("width", function() { return x(h.start + h.bar) - x(h.start); })
    .attr("y", function(d) { return y(d); })
    .attr("height", function(d) { return y(0) - y(d); })
    .attr("fill", barBlue)
    .attr("stroke", "#a9bcdc")
    .attr("stroke-width", h.edge);
});

// axes
function styleAxis(sel) {
  sel.selectAll(".domain").attr("stroke", "#333").attr("stroke-width", 3.5);
  sel.selectAll(".tick line").attr("stroke", "#333").attr("stroke-width", 3);
  sel.selectAll("text").attr("font-size", 29).attr("fill", "#333")
     .attr("font-family", '"Liberation Sans", Arial, sans-serif');
}

d3.range(5).forEach(function(r) {
  d3.range(5).forEach(function(c) {
    var xAxis = d3.axisBottom(xScales[c]).tickValues(xTickVals[c]).tickSize(18).tickSizeOuter(0).tickPadding(14)
        .tickFormat(r === 4 ? function(d) { return c === 0 ? d.toFixed(1) : String(d); } : "");
    var yAxis = d3.axisLeft(yScales[r]).tickValues(yTickVals[r]).tickSize(18).tickSizeOuter(0).tickPadding(14)
        .tickFormat(c === 0 ? function(d) {
          if (r === 0) return timeLabels[timeTicks.indexOf(d)];
          if (r === 4) return d.toFixed(1);
          return String(d);
        } : "");
    svg.append("g").attr("transform", "translate(0," + rowExtent[r][0] + ")").call(xAxis).call(styleAxis);
    svg.append("g").attr("transform", "translate(" + colExtent[c][0] + ",0)").call(yAxis).call(styleAxis);
  });
});

// axis titles
var xLabelPos = [402, 927, 1452, 1975, 2499];
var yLabelPos = [[47, 298], [60, 823], [41, 1352], [41, 1875], [32, 2375]];
varNames.forEach(function(name, i) {
  svg.append("text").attr("x", xLabelPos[i]).attr("y", 2739)
    .attr("text-anchor", "middle").attr("font-size", 32).text(name);
  svg.append("text")
    .attr("transform", "translate(" + (yLabelPos[i][0] + 11) + "," + yLabelPos[i][1] + ") rotate(-90)")
    .attr("text-anchor", "middle").attr("font-size", 32).text(name);
});

// offset labels of the Time axes
function offsetLabel(x, y) {
  var t = svg.append("text").attr("x", x).attr("y", y).attr("font-size", 27);
  t.append("tspan").text("1x10");
  t.append("tspan").attr("dy", -9).attr("font-size", 18).text("9");
}
offsetLabel(162, 46);
offsetLabel(569, 2739);
</script>
</body>
</html>
